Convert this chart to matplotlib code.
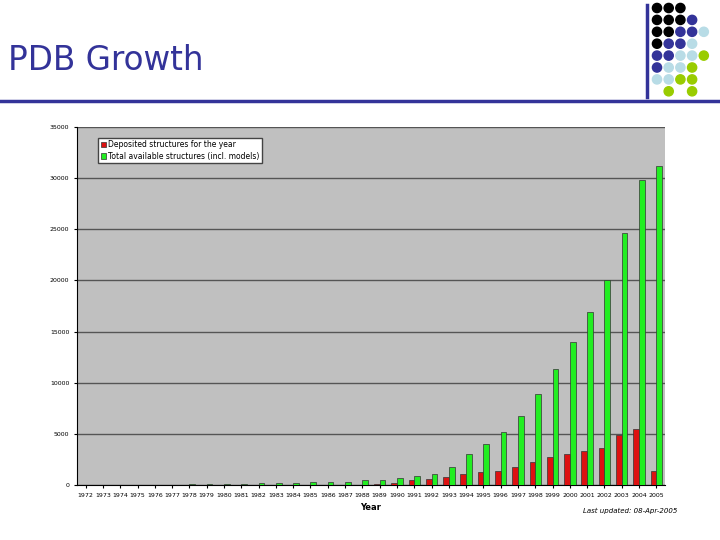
import numpy as np
import matplotlib.pyplot as plt
from matplotlib.patches import Circle

years = list(range(1972, 2006))
deposited = [1, 1, 2, 1, 10, 20, 15, 20, 25, 30, 35, 40, 40, 30, 35, 40, 40, 110, 200, 450,
             600, 800, 1100, 1300, 1400, 1800, 2200, 2700, 3000, 3300, 3600, 4900, 5500, 1400]
total = [7, 9, 12, 13, 13, 36, 69, 77, 104, 133, 165, 201, 237, 266, 299, 330, 442, 513, 648, 873,
         1097, 1789, 3007, 4002, 5218, 6707, 8868, 11356, 13984, 16962, 20087, 24621, 29802, 31150]

fig = plt.figure(figsize=(7.2, 5.4), dpi=100)
navy = "#333399"

# slide decorations
fig.text(8 / 720, 1 - 60 / 540, "PDB Growth", fontsize=23.5, color=navy, va="center", ha="left")
deco = fig.add_axes([0, 0, 1, 1], zorder=-1)
deco.set_xlim(0, 720)
deco.set_ylim(540, 0)
deco.axis("off")
deco.plot([0, 720], [101, 101], color=navy, lw=2.5)
deco.plot([647, 647], [5, 97], color=navy, lw=2.5)
K, N, L, G = "#000000", "#333399", "#b8dce6", "#99cc00"
rows = ["KKK..", "KKKN.", "KKNNL", "KNNL.", "NNLLG", "NLLG.", "LLGG.", ".G.G."]
cmap = {"K": K, "N": N, "L": L, "G": G}
for r, row in enumerate(rows):
    for c, ch in enumerate(row):
        if ch != ".":
            deco.add_patch(Circle((657 + 11.7 * c, 8 + 11.9 * r), 4.6, color=cmap[ch]))

# chart
ax = fig.add_axes([77 / 720, 1 - 485 / 540, 588 / 720, 358 / 540])
ax.set_facecolor("#c0c0c0")
x = np.arange(len(years))
w = 0.33
ax.bar(x - w / 2, deposited, w, color="#dd1111", edgecolor="#333333", lw=0.5,
       label="Deposited structures for the year", zorder=3)
ax.bar(x + w / 2, total, w, color="#22ee22", edgecolor="#333333", lw=0.5,
       label="Total available structures (incl. models)", zorder=3)
ax.set_xlim(-0.5, len(years) - 0.5)
ax.set_ylim(0, 35000)
ax.set_yticks(range(0, 35001, 5000))
ax.tick_params(labelsize=4.5, length=2)
ax.set_xticks(x)
ax.set_xticklabels(years)
ax.grid(axis="y", color="#555555", lw=1, zorder=1)
for s in ["top", "right"]:
    ax.spines[s].set_visible(False)
ax.set_xlabel("Year", fontsize=6, fontweight="bold")
fig.text(583 / 720, 1 - 511 / 540, "Last updated: 08-Apr-2005", fontsize=5, style="italic",
         va="center")
ax.legend(loc="upper left", bbox_to_anchor=(0.03, 0.98), fontsize=5.5, fancybox=False,
          edgecolor="#444444", handlelength=0.7, handleheight=0.7, borderpad=0.3,
          labelspacing=0.3, handletextpad=0.3, framealpha=1)

fig.savefig("out.png", dpi=100)
